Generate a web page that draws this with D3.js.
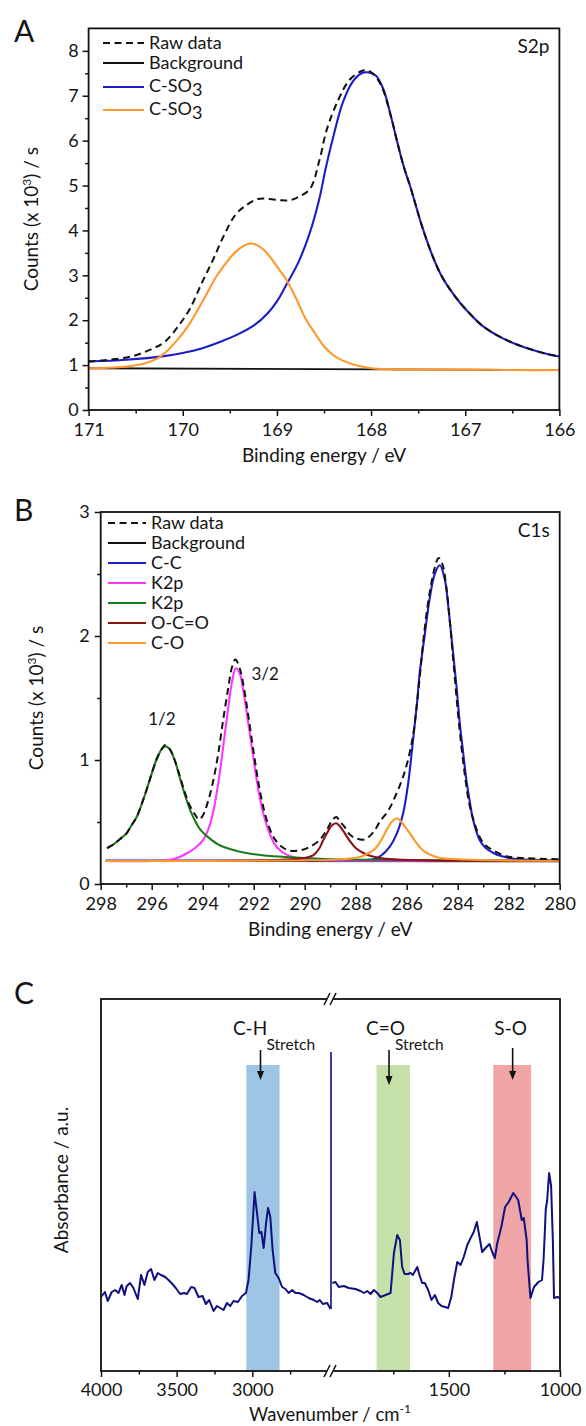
<!DOCTYPE html>
<html><head><meta charset="utf-8">
<script src="https://cdn.jsdelivr.net/npm/d3@7"></script>
<style>
body{margin:0;background:#fff}
svg{display:block}
text{font-family:Lato,"Noto Sans",sans-serif;fill:#151515}
</style>
</head><body>
<svg id="chart" width="586" height="1426"></svg>
<script>
// ---------------- Panel A : S2p ----------------
const aXTicks = [171,170,169,168,167,166];
const aXMinor = [170.5,169.5,168.5,167.5,166.5];
const aYTicks = [0,1,2,3,4,5,6,7,8];
const aYMinor = [0.5,1.5,2.5,3.5,4.5,5.5,6.5,7.5];
const aLegend = ["Raw data","Background","C-SO3","C-SO3"];
const aBackground = [[171,0.93],[166,0.89]];
const aCSO3blue = [[171.0,1.08],[170.6,1.12],[170.2,1.2],[170.0,1.27],[169.8,1.37],[169.6,1.52],[169.4,1.7],[169.24,1.89],[169.1,2.15],[169.0,2.42],[168.9,2.79],[168.77,3.3],[168.65,3.95],[168.55,4.7],[168.48,5.4],[168.4,6.1],[168.3,6.85],[168.2,7.3],[168.1,7.5],[168.03,7.52],[167.95,7.45],[167.87,7.15],[167.79,6.55],[167.72,5.95],[167.65,5.4],[167.58,4.95],[167.46,4.1],[167.36,3.5],[167.26,3.02],[167.16,2.68],[167.06,2.4],[166.94,2.12],[166.82,1.88],[166.65,1.65],[166.5,1.5],[166.3,1.35],[166.15,1.26],[166.0,1.19]];
const aCSO3orange = [[171.0,0.93],[170.8,0.94],[170.55,0.98],[170.4,1.04],[170.27,1.15],[170.15,1.35],[170.05,1.58],[169.95,1.85],[169.85,2.2],[169.75,2.57],[169.65,2.95],[169.55,3.25],[169.45,3.5],[169.35,3.66],[169.27,3.71],[169.2,3.66],[169.1,3.48],[169.0,3.2],[168.9,2.9],[168.8,2.5],[168.7,2.05],[168.6,1.72],[168.5,1.42],[168.4,1.22],[168.3,1.1],[168.15,0.99],[168.0,0.93],[167.8,0.91],[167.5,0.9],[167.0,0.9],[166.5,0.89],[166.0,0.89]];
const aRaw = [[171.0,1.08],[170.83,1.11],[170.55,1.19],[170.35,1.34],[170.19,1.52],[170.04,1.89],[169.92,2.27],[169.8,2.82],[169.68,3.34],[169.56,3.9],[169.44,4.35],[169.32,4.57],[169.2,4.7],[169.08,4.7],[168.95,4.67],[168.85,4.68],[168.77,4.75],[168.65,4.92],[168.55,5.55],[168.47,6.25],[168.35,6.9],[168.23,7.35],[168.1,7.55],[168.03,7.56],[167.97,7.47],[167.89,7.22],[167.79,6.55],[167.72,5.95],[167.65,5.4],[167.58,4.95],[167.46,4.1],[167.36,3.5],[167.26,3.02],[167.16,2.68],[167.06,2.4],[166.94,2.12],[166.82,1.88],[166.65,1.65],[166.5,1.5],[166.3,1.35],[166.15,1.26],[166.0,1.19]];

// ---------------- Panel B : C1s ----------------
const bXTicks = [298,296,294,292,290,288,286,284,282,280];
const bXMinor = [297,295,293,291,289,287,285,283,281];
const bYTicks = [0,1,2,3];
const bYMinor = [0.5,1.5,2.5];
const bLegend = ["Raw data","Background","C-C","K2p","K2p","O-C=O","C-O"];
const bBackground = [[297.8,0.185],[280,0.182]];
const bCC = [[297.8,0.19],[292,0.19],[288,0.192],[287.3,0.2],[287.0,0.23],[286.67,0.3],[286.4,0.4],[286.14,0.57],[285.95,0.8],[285.75,1.16],[285.6,1.45],[285.49,1.7],[285.3,2.0],[285.1,2.3],[284.9,2.5],[284.7,2.57],[284.5,2.45],[284.35,2.2],[284.2,1.9],[284.05,1.6],[283.92,1.3],[283.78,1.05],[283.66,0.84],[283.53,0.67],[283.4,0.52],[283.14,0.355],[282.9,0.29],[282.6,0.25],[282.3,0.225],[282,0.21],[281.5,0.2],[280,0.19]];
const bK2p32 = [[297.8,0.186],[295.5,0.19],[295.0,0.21],[294.6,0.25],[294.3,0.29],[294.0,0.35],[293.8,0.43],[293.6,0.57],[293.4,0.8],[293.2,1.1],[293.0,1.42],[292.85,1.63],[292.7,1.74],[292.55,1.7],[292.4,1.55],[292.2,1.28],[292.0,1.0],[291.8,0.74],[291.6,0.55],[291.4,0.42],[291.2,0.33],[290.9,0.26],[290.5,0.22],[290.0,0.2],[289,0.19],[287,0.188],[280,0.186]];
const bK2p12 = [[297.75,0.29],[297.5,0.32],[297.2,0.37],[296.98,0.41],[296.8,0.47],[296.59,0.54],[296.4,0.64],[296.2,0.76],[296.0,0.89],[295.8,1.01],[295.6,1.09],[295.47,1.11],[295.3,1.09],[295.1,1.0],[294.9,0.86],[294.7,0.72],[294.5,0.6],[294.3,0.51],[294.1,0.44],[293.8,0.38],[293.4,0.32],[292.9,0.28],[292.3,0.25],[291.6,0.23],[290.5,0.215],[289,0.2],[287,0.195],[284,0.19],[280,0.188]];
const bOCO = [[297.8,0.186],[292,0.19],[290.5,0.2],[290.0,0.21],[289.67,0.23],[289.45,0.28],[289.28,0.35],[289.1,0.42],[288.95,0.47],[288.76,0.49],[288.6,0.46],[288.4,0.4],[288.24,0.35],[288.0,0.29],[287.7,0.25],[287.4,0.225],[287.06,0.21],[286.5,0.2],[285,0.19],[280,0.188]];
const bCO = [[297.8,0.186],[290,0.19],[288.5,0.2],[287.8,0.22],[287.5,0.25],[287.32,0.27],[287.1,0.32],[286.93,0.38],[286.75,0.45],[286.55,0.51],[286.4,0.53],[286.25,0.51],[286.1,0.47],[285.88,0.41],[285.65,0.34],[285.36,0.27],[285.0,0.23],[284.7,0.21],[284,0.2],[282,0.19],[280,0.188]];
const bRaw = [[297.75,0.29],[297.5,0.32],[297.2,0.37],[296.98,0.41],[296.8,0.47],[296.59,0.54],[296.4,0.64],[296.2,0.76],[296.0,0.89],[295.8,1.01],[295.6,1.09],[295.47,1.12],[295.3,1.09],[295.1,1.0],[294.9,0.87],[294.7,0.74],[294.5,0.63],[294.3,0.56],[294.15,0.52],[294.0,0.55],[293.8,0.66],[293.6,0.82],[293.4,1.04],[293.2,1.32],[293.0,1.58],[292.85,1.75],[292.72,1.81],[292.55,1.74],[292.4,1.6],[292.2,1.34],[292.0,1.06],[291.8,0.8],[291.6,0.6],[291.4,0.46],[291.2,0.37],[290.9,0.3],[290.6,0.27],[290.2,0.27],[289.8,0.3],[289.41,0.355],[289.1,0.45],[288.9,0.52],[288.76,0.54],[288.6,0.5],[288.4,0.45],[288.24,0.4],[288.0,0.37],[287.65,0.36],[287.3,0.42],[287.06,0.5],[286.7,0.6],[286.4,0.73],[286.15,0.86],[285.95,1.0],[285.75,1.2],[285.6,1.45],[285.45,1.75],[285.3,2.05],[285.1,2.35],[284.9,2.55],[284.75,2.63],[284.6,2.58],[284.45,2.4],[284.3,2.1],[284.15,1.75],[284.0,1.4],[283.85,1.1],[283.7,0.85],[283.55,0.65],[283.4,0.53],[283.14,0.38],[282.9,0.31],[282.6,0.27],[282.3,0.24],[282.0,0.22],[281.5,0.21],[281,0.205],[280.0,0.2]];
const bPeakLabels = [["1/2",295.6,1.33],["3/2",291.55,1.69]];

// ---------------- Panel C : FTIR ----------------
const cXTicks = [4000,3500,3000,1500,1000];
const cXMinor = [3750,3250,2750,1750,1250];
const cBreak = [2480,2030];
const irLeft = [[4000,0.74],[3974,0.79],[3956,0.70],[3929,0.79],[3907,0.81],[3885,0.78],[3863,0.86],[3845,0.76],[3830,0.85],[3808,0.88],[3786,0.83],[3757,0.72],[3735,0.96],[3713,0.86],[3691,0.99],[3669,1.02],[3647,0.91],[3625,0.98],[3603,0.96],[3576,0.94],[3554,0.91],[3528,0.87],[3506,0.83],[3477,0.77],[3450,0.78],[3432,0.77],[3404,0.84],[3382,0.83],[3356,0.74],[3329,0.75],[3307,0.67],[3285,0.71],[3256,0.60],[3234,0.65],[3212,0.63],[3190,0.61],[3168,0.68],[3146,0.65],[3124,0.70],[3095,0.69],[3068,0.75],[3042,0.78],[3025,0.91],[3007,1.24],[2985,1.79],[2969,1.58],[2954,1.38],[2940,1.39],[2925,1.23],[2909,1.48],[2896,1.63],[2881,1.54],[2866,1.21],[2848,0.98],[2826,0.93],[2803,0.84],[2781,0.82],[2760,0.78],[2737,0.81],[2715,0.78],[2693,0.78],[2660,0.76],[2627,0.73],[2594,0.71],[2572,0.69],[2554,0.71],[2534,0.67],[2505,0.68],[2483,0.62]];
const irRight = [[2024,0.88],[2010,0.89],[1995,0.84],[1972,0.85],[1950,0.83],[1920,0.82],[1897,0.80],[1882,0.78],[1867,0.80],[1852,0.77],[1837,0.81],[1822,0.78],[1807,0.74],[1785,0.76],[1762,0.78],[1747,1.18],[1732,1.36],[1720,1.31],[1710,1.04],[1699,0.97],[1684,0.97],[1672,0.98],[1662,0.96],[1642,1.04],[1632,0.96],[1620,0.88],[1608,0.88],[1593,0.81],[1578,0.71],[1563,0.76],[1548,0.68],[1533,0.65],[1518,0.64],[1503,0.63],[1489,0.74],[1477,0.91],[1462,1.09],[1447,1.06],[1433,1.14],[1417,1.26],[1402,1.33],[1388,1.39],[1374,1.49],[1362,1.34],[1350,1.19],[1335,1.23],[1317,1.27],[1305,1.19],[1293,1.13],[1282,1.28],[1264,1.44],[1247,1.64],[1231,1.69],[1210,1.78],[1188,1.71],[1172,1.51],[1163,1.53],[1150,1.31],[1146,1.11],[1133,0.73],[1117,0.84],[1097,0.89],[1081,0.91],[1074,1.11],[1069,1.35],[1064,1.62],[1058,1.70],[1049,1.98],[1040,1.85],[1032,1.3],[1027,0.73],[1013,0.74],[1000,0.73]];
const irSpike = [0.62,3.19];
const cBands = [[3040,2820],[1825,1675],[1300,1130]];
const cBandTop = 3.06;
const cAnnotations = [["C-H",2946,3015],["C=O",1769,1785],["S-O",1213,1222]];

// ---------------- drawing ----------------
const svg = d3.select("#chart");
const COL = {blue:"#1c1cc8", orange:"#ff982a", pink:"#ff36ff", green:"#1b7a1b", brown:"#8c1212", navy:"#10107e"};

function styleAxis(sel, fs){
  sel.select(".domain").remove();
  sel.selectAll(".tick line").attr("stroke","#111").attr("stroke-width",1.5);
  sel.selectAll(".tick text").attr("font-size",fs).attr("font-family","Lato").attr("fill","#151515");
}

function xpsPanel(cfg){
  const g = svg.append("g");
  const x = d3.scaleLinear().domain(cfg.xd).range(cfg.xr);
  const y = d3.scaleLinear().domain(cfg.yd).range(cfg.yr);
  const cid = "clip"+cfg.key;
  svg.append("clipPath").attr("id",cid).append("rect")
    .attr("x",cfg.xr[0]).attr("y",cfg.yr[1]).attr("width",cfg.xr[1]-cfg.xr[0]).attr("height",cfg.yr[0]-cfg.yr[1]);
  const line = d3.line().x(d=>x(d[0])).y(d=>y(d[1])).curve(d3.curveCatmullRom.alpha(0.5));
  const cg = g.append("g").attr("clip-path",`url(#${cid})`);
  cfg.series.forEach(s=>{
    cg.append("path").datum(s.data).attr("d",line).attr("fill","none")
      .attr("stroke",s.color).attr("stroke-width",s.w||2.1)
      .attr("stroke-dasharray",s.dash||null).attr("stroke-linejoin","round");
  });
  const ax = g.append("g").attr("transform",`translate(0,${cfg.yr[0]})`)
    .call(d3.axisBottom(x).tickValues(cfg.xMajor).tickSize(6).tickPadding(7).tickFormat(d3.format("d")));
  styleAxis(ax,18);
  const axm = g.append("g").attr("transform",`translate(0,${cfg.yr[0]})`)
    .call(d3.axisBottom(x).tickValues(cfg.xMinor).tickSize(3.5).tickFormat(""));
  styleAxis(axm,18);
  const ay = g.append("g").attr("transform",`translate(${cfg.xr[0]},0)`)
    .call(d3.axisLeft(y).tickValues(cfg.yMajor).tickSize(6).tickPadding(cfg.yPad).tickFormat(d3.format("d")));
  styleAxis(ay,18);
  const aym = g.append("g").attr("transform",`translate(${cfg.xr[0]},0)`)
    .call(d3.axisLeft(y).tickValues(cfg.yMinor).tickSize(3.5).tickFormat(""));
  styleAxis(aym,18);
  g.append("rect").attr("x",cfg.xr[0]).attr("y",cfg.yr[1]).attr("width",cfg.xr[1]-cfg.xr[0]).attr("height",cfg.yr[0]-cfg.yr[1])
    .attr("fill","none").attr("stroke","#111").attr("stroke-width",1.8);
  g.append("text").attr("x",(cfg.xr[0]+cfg.xr[1])/2).attr("y",cfg.xTitleY).attr("text-anchor","middle")
    .attr("font-size",19).text("Binding energy / eV");
  const yt = g.append("text").attr("transform",`translate(${cfg.yTitleX},${(cfg.yr[0]+cfg.yr[1])/2}) rotate(-90)`)
    .attr("text-anchor","middle").attr("font-size",19);
  yt.append("tspan").text("Counts (x 10");
  yt.append("tspan").attr("font-size",12).attr("dy",-7).text("3");
  yt.append("tspan").attr("dy",7).text(") / s");
  g.append("text").attr("x",cfg.letterX).attr("y",cfg.letterY).attr("font-size",30).text(cfg.letter);
  g.append("text").attr("x",cfg.xr[1]-10).attr("y",cfg.yr[1]+cfg.coreDy).attr("text-anchor","end").attr("font-size",19).text(cfg.core);
  cfg.legend.forEach((lab,i)=>{
    const s = cfg.legendSeries[i];
    const ly = cfg.legendY[i];
    g.append("line").attr("x1",cfg.legX[0]).attr("x2",cfg.legX[1]).attr("y1",ly).attr("y2",ly)
      .attr("stroke",s.color).attr("stroke-width",2).attr("stroke-dasharray",s.dash?"7,4.5":null);
    const t = g.append("text").attr("x",cfg.legX[1]+5).attr("y",ly).attr("dy","0.35em").attr("font-size",cfg.legFs);
    if(lab.endsWith("SO3")){
      t.attr("dy","0.25em");
      t.append("tspan").text(lab.slice(0,-1));
      t.append("tspan").attr("dy",4).text("3");
    } else t.text(lab);
  });
  return {x,y,g};
}

// Panel A
xpsPanel({key:"A", xd:[171,166], xr:[88.6,559.4], yd:[0,8.5], yr:[410,28.4],
  xMajor:aXTicks, xMinor:aXMinor, yMajor:aYTicks, yMinor:aYMinor, yPad:4,
  series:[{data:aBackground,color:"#111",w:1.8},{data:aCSO3blue,color:COL.blue},{data:aCSO3orange,color:COL.orange},{data:aRaw,color:"#111",dash:"7,4.5",w:2}],
  legend:aLegend, legFs:18,
  legendSeries:[{color:"#111",dash:true},{color:"#111"},{color:COL.blue},{color:COL.orange}],
  legendY:[43,63,87,110], legX:[103,144],
  xTitleY:462, yTitleX:38, letter:"A", letterX:14, letterY:42, core:"S2p", coreDy:25});

// Panel B
const pB = xpsPanel({key:"B", xd:[298,280], xr:[100.7,559.7], yd:[0,3], yr:[884,512],
  xMajor:bXTicks, xMinor:bXMinor, yMajor:bYTicks, yMinor:bYMinor, yPad:5,
  series:[{data:bBackground,color:"#111",w:1.8},{data:bCC,color:COL.blue},{data:bK2p32,color:COL.pink},{data:bK2p12,color:COL.green},{data:bOCO,color:COL.brown},{data:bCO,color:COL.orange},{data:bRaw,color:"#111",dash:"7,4.5",w:2}],
  legend:bLegend, legFs:18,
  legendSeries:[{color:"#111",dash:true},{color:"#111"},{color:COL.blue},{color:COL.pink},{color:COL.green},{color:COL.brown},{color:COL.orange}],
  legendY:[523,543,563,583,603,623,643], legX:[108,146],
  xTitleY:936, yTitleX:43, letter:"B", letterX:14, letterY:521, core:"C1s", coreDy:25});
bPeakLabels.forEach(p=>{
  pB.g.append("text").attr("x",pB.x(p[1])).attr("y",pB.y(p[2])).attr("dy","0.35em").attr("text-anchor","middle").attr("font-size",17).text(p[0]);
});

// Panel C
(function(){
  const g = svg.append("g");
  const xr = [101,560], yr=[1371,999];
  const xBreak = 331;
  const x = d3.scaleLinear().domain([4000,cBreak[0],cBreak[1],1000]).range([xr[0],xBreak,xBreak,xr[1]]);
  const y = d3.scaleLinear().domain([0,3.72]).range(yr);
  const bandCol = ["#9fc5e4","#c6e0aa","#f0a6a6"];
  cBands.forEach((b,i)=>{
    g.append("rect").attr("x",x(b[0])).attr("width",x(b[1])-x(b[0])).attr("y",y(cBandTop)).attr("height",y(0)-y(cBandTop)).attr("fill",bandCol[i]);
  });
  const line = d3.line().x(d=>x(d[0])).y(d=>y(d[1]));
  [irLeft,irRight].forEach(seg=>{
    g.append("path").datum(seg).attr("d",line).attr("fill","none").attr("stroke",COL.navy).attr("stroke-width",2).attr("stroke-linejoin","round");
  });
  g.append("line").attr("x1",xBreak).attr("x2",xBreak).attr("y1",y(irSpike[0])).attr("y2",y(irSpike[1]))
    .attr("stroke",COL.navy).attr("stroke-width",1.6);
  const ax = g.append("g").attr("transform",`translate(0,${yr[0]})`)
    .call(d3.axisBottom(x).tickValues(cXTicks).tickSize(6).tickPadding(6).tickFormat(d3.format("d")));
  styleAxis(ax,18);
  const axm = g.append("g").attr("transform",`translate(0,${yr[0]})`)
    .call(d3.axisBottom(x).tickValues(cXMinor).tickSize(3.5).tickFormat(""));
  styleAxis(axm,18);
  g.append("rect").attr("x",xr[0]).attr("y",yr[1]).attr("width",xr[1]-xr[0]).attr("height",yr[0]-yr[1])
    .attr("fill","none").attr("stroke","#111").attr("stroke-width",1.8);
  [yr[0],yr[1]].forEach(yy=>{
    g.append("rect").attr("x",xBreak-4).attr("y",yy-2).attr("width",6).attr("height",4).attr("fill","#fff");
    [-4,2].forEach(o=>{
      g.append("line").attr("x1",xBreak+o-3).attr("y1",yy+6).attr("x2",xBreak+o+3).attr("y2",yy-6)
        .attr("stroke","#111").attr("stroke-width",1.5);
    });
  });
  cAnnotations.forEach(a=>{
    const ax0 = x(a[1]);
    g.append("text").attr("x",x(a[2])).attr("y",1035).attr("text-anchor","middle").attr("font-size",19).text(a[0]);
    if(a[0]!=="S-O") g.append("text").attr("x",ax0+6).attr("y",1050).attr("font-size",15.5).text("Stretch");
    const y0 = a[0]==="S-O"?1048:1050, y1 = a[0]==="C=O"?1085:1080;
    g.append("line").attr("x1",ax0).attr("x2",ax0).attr("y1",y0).attr("y2",y1-7).attr("stroke","#111").attr("stroke-width",1.6);
    g.append("path").attr("d",`M${ax0-3.5},${y1-9} L${ax0+3.5},${y1-9} L${ax0},${y1} Z`).attr("fill","#111");
  });
  g.append("text").attr("x",330).attr("y",1421).attr("text-anchor","middle").attr("font-size",18.5)
    .call(t=>{t.append("tspan").text("Wavenumber / cm");t.append("tspan").attr("font-size",12).attr("dy",-8).text("-1");});
  g.append("text").attr("transform",`translate(68,1180) rotate(-90)`).attr("text-anchor","middle").attr("font-size",19).text("Absorbance / a.u.");
  g.append("text").attr("x",14).attr("y",1004).attr("font-size",30).text("C");
})();
</script>
</body></html>
